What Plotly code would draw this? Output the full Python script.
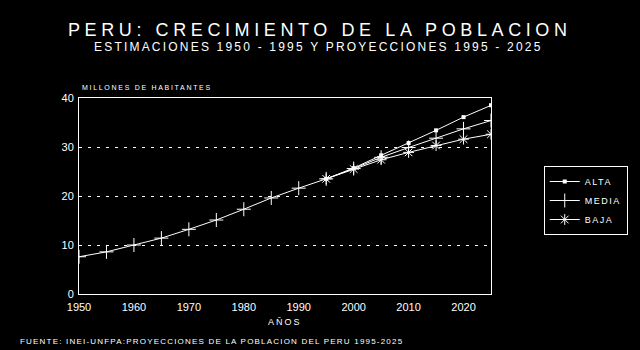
import plotly.graph_objects as go

years_hist = [1950, 1955, 1960, 1965, 1970, 1975, 1980, 1985, 1990, 1995]
pop_hist = [7.6, 8.6, 10.0, 11.4, 13.2, 15.1, 17.3, 19.6, 21.6, 23.5]

years_proj = [1995, 2000, 2005, 2010, 2015, 2020, 2025]
alta = [23.5, 25.7, 28.3, 30.8, 33.4, 36.1, 38.5]
media = [23.5, 25.6, 27.9, 29.9, 31.8, 33.7, 35.4]
baja = [23.5, 25.5, 27.4, 28.9, 30.3, 31.6, 32.6]

FONT = "Liberation Sans"
WHITE = "white"

# plot area in pixels
L, R, T, B = 79, 493, 98, 294
W, H = 640, 350


def px(x):
    return (x - L) / (R - L)


def py(y):
    return (B - y) / (B - T)


def spaced(text, sp):
    return '<span style="letter-spacing:%spx">%s</span>' % (sp, text)


fig = go.Figure()
fig.add_trace(go.Scatter(
    x=years_proj, y=alta, name=spaced("ALTA", 1.5), mode="lines+markers",
    line=dict(color=WHITE, width=1),
    marker=dict(symbol="square", size=4, color=WHITE),
))
fig.add_trace(go.Scatter(
    x=years_hist + years_proj[1:], y=pop_hist + media[1:], name=spaced("MEDIA", 1.5),
    mode="lines+markers",
    line=dict(color=WHITE, width=1),
    marker=dict(symbol="cross-thin", size=10, line=dict(color=WHITE, width=1)),
))
fig.add_trace(go.Scatter(
    x=years_proj, y=baja, name=spaced("BAJA", 1.5), mode="lines+markers",
    line=dict(color=WHITE, width=1),
    marker=dict(symbol="asterisk-open", size=9, line=dict(color=WHITE, width=1)),
))

fig.update_layout(
    width=W, height=H,
    paper_bgcolor="black", plot_bgcolor="black",
    margin=dict(l=L, r=W - R, t=T, b=H - B),
    font=dict(family=FONT, color=WHITE, size=11),
    showlegend=True,
    legend=dict(
        x=px(546), y=py(166), xanchor="left", yanchor="top",
        bgcolor="black", bordercolor=WHITE, borderwidth=1,
        font=dict(size=9, color=WHITE),
        itemwidth=30,
    ),
    xaxis=dict(
        range=[1950, 2025], tickvals=[1950, 1960, 1970, 1980, 1990, 2000, 2010, 2020],
        showgrid=False, zeroline=False, showline=True, linecolor=WHITE, linewidth=1,
        mirror=True, ticks="", tickfont=dict(size=11, color=WHITE),
        ticklabelstandoff=3,
    ),
    yaxis=dict(
        range=[0, 40], tickvals=[0, 10, 20, 30, 40],
        showgrid=True, gridcolor=WHITE, gridwidth=1, griddash="3px,6px",
        zeroline=False, showline=True, linecolor=WHITE, linewidth=1,
        mirror=True, ticks="", tickfont=dict(size=11, color=WHITE),
        ticklabelstandoff=2,
    ),
)

fig.add_annotation(text=spaced("PERU: CRECIMIENTO DE LA POBLACION", 4.6), x=px(321), y=py(29.5),
                   xref="paper", yref="paper", xanchor="center", yanchor="middle",
                   showarrow=False, font=dict(size=18, color=WHITE, family=FONT))
fig.add_annotation(text=spaced("ESTIMACIONES 1950 - 1995 Y PROYECCIONES 1995 - 2025", 2.2),
                   x=px(320), y=py(47.5),
                   xref="paper", yref="paper", xanchor="center", yanchor="middle",
                   showarrow=False, font=dict(size=12, color=WHITE, family=FONT))
fig.add_annotation(text=spaced("MILLONES DE HABITANTES", 1.7), x=px(80), y=py(87),
                   xref="paper", yref="paper",
                   xanchor="left", yanchor="middle", showarrow=False,
                   font=dict(size=7, color=WHITE, family=FONT))
fig.add_annotation(text=spaced("AÑOS", 2), x=px(286), y=py(322), xref="paper", yref="paper",
                   xanchor="center", yanchor="middle", showarrow=False,
                   font=dict(size=9, color=WHITE, family=FONT))
fig.add_annotation(text=spaced("FUENTE: INEI-UNFPA:PROYECCIONES DE LA POBLACION DEL PERU 1995-2025", 1.2),
                   x=px(18), y=py(341), xref="paper", yref="paper",
                   xanchor="left", yanchor="middle", showarrow=False,
                   font=dict(size=8, color=WHITE, family=FONT))

fig.write_html("out.html")
